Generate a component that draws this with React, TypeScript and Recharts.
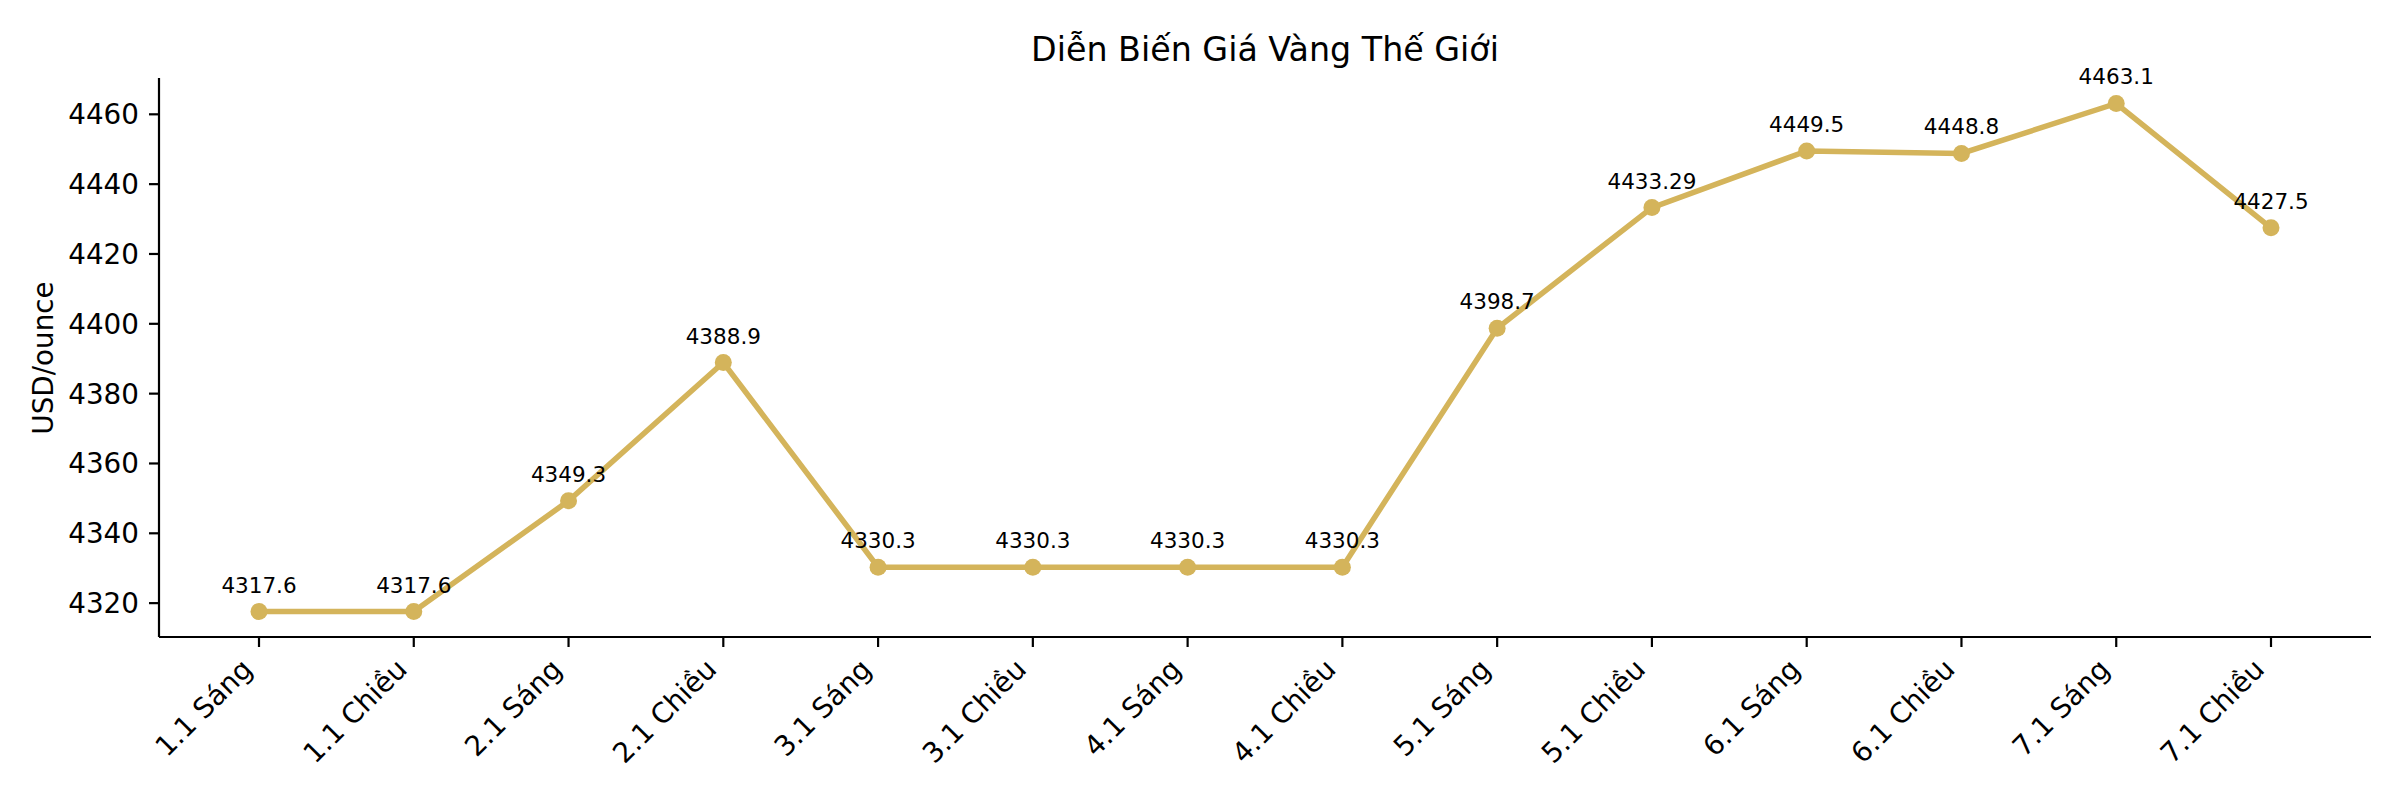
import React from 'react';
import { LineChart, Line, XAxis, YAxis, LabelList } from 'recharts';

const sessions = [
  '1.1 Sáng', '1.1 Chiều', '2.1 Sáng', '2.1 Chiều', '3.1 Sáng', '3.1 Chiều', '4.1 Sáng',
  '4.1 Chiều', '5.1 Sáng', '5.1 Chiều', '6.1 Sáng', '6.1 Chiều', '7.1 Sáng', '7.1 Chiều',
];
const prices = [
  4317.6, 4317.6, 4349.3, 4388.9, 4330.3, 4330.3, 4330.3,
  4330.3, 4398.7, 4433.29, 4449.5, 4448.8, 4463.1, 4427.5,
];
const yTicks = [4320, 4340, 4360, 4380, 4400, 4420, 4440, 4460];

const GOLD = '#D4B45B';
const FONT = '"DejaVu Sans", sans-serif';

const data = sessions.map((label, i) => ({ label, price: prices[i] }));

const XTick = ({ x, y, payload }: any) => {
  const ax = x - 5;
  const ay = y + 22;
  return (
    <text
      x={ax}
      y={ay}
      textAnchor="end"
      fontFamily={FONT}
      fontSize={27.8}
      fill="#000"
      transform={`rotate(-45, ${ax}, ${ay})`}
    >
      {payload.value}
    </text>
  );
};

const PointLabel = ({ x, y, value }: any) => (
  <text x={x} y={y - 19} textAnchor="middle" fontFamily={FONT} fontSize={21.5} fill="#000">
    {String(value)}
  </text>
);

export default function App() {
  return (
    <div style={{ position: 'absolute', top: 0, left: 0, width: 2400, height: 800, background: '#fff' }}>
      <LineChart
        width={2400}
        height={800}
        data={data}
        margin={{ top: 78, right: 29, bottom: 63, left: 0 }}
      >
        <XAxis
          dataKey="label"
          interval={0}
          height={100}
          padding={{ left: 100, right: 100 }}
          tickSize={10}
          tick={<XTick />}
          axisLine={{ stroke: '#000', strokeWidth: 2.2 }}
          tickLine={{ stroke: '#000', strokeWidth: 2.2 }}
          label={{
            content: () => (
              <text x={1265} y={61} textAnchor="middle" fontFamily={FONT} fontSize={33.3} fill="#000">
                Diễn Biến Giá Vàng Thế Giới
              </text>
            ),
          }}
        />
        <YAxis
          type="number"
          width={159}
          domain={[4310.3, 4470.4]}
          ticks={yTicks}
          allowDataOverflow
          tickSize={10}
          tickMargin={10}
          tick={{ fontFamily: FONT, fontSize: 27.8, fill: '#000' }}
          axisLine={{ stroke: '#000', strokeWidth: 2.2 }}
          tickLine={{ stroke: '#000', strokeWidth: 2.2 }}
          label={{
            content: () => (
              <text
                x={53}
                y={358}
                textAnchor="middle"
                fontFamily={FONT}
                fontSize={27.8}
                fill="#000"
                transform="rotate(-90, 53, 358)"
              >
                USD/ounce
              </text>
            ),
          }}
        />
        <Line
          type="linear"
          dataKey="price"
          stroke={GOLD}
          strokeWidth={5.5}
          dot={{ r: 8.5, fill: GOLD, stroke: 'none' }}
          activeDot={false}
          isAnimationActive={false}
        >
          <LabelList dataKey="price" content={<PointLabel />} />
        </Line>
      </LineChart>
    </div>
  );
}
